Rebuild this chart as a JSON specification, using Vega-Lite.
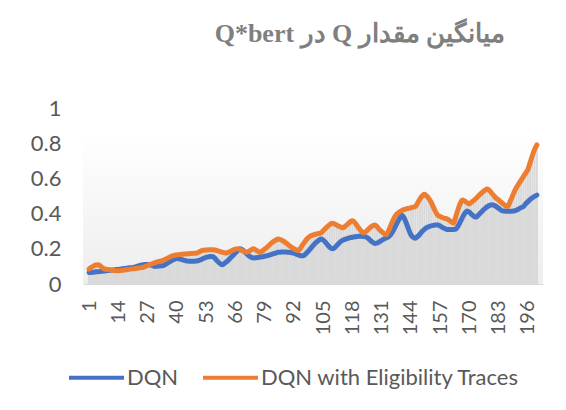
{
"$schema": "https://vega.github.io/schema/vega-lite/v6.json",
"width": 460,
"height": 176,
"autosize": {"type": "none"},
"padding": {"left": 83, "top": 108, "right": 23, "bottom": 126},
"background": "white",
"config": {
  "font": "Lato",
  "axis": {"labelOverlap": false, "labelFlush": false, "labelBound": false},
  "view": {"stroke": null, "fill": {"gradient": "linear", "x1": 0, "y1": 0, "x2": 0, "y2": 1, "stops": [{"offset": 0, "color": "#ffffff"}, {"offset": 0.15, "color": "#ffffff"}, {"offset": 1, "color": "#ededed"}]}}
},
"title": {"text": "\u202Bمیانگین مقدار Q در Q*bert\u202C", "font": "Liberation Serif", "fontSize": 26, "fontWeight": "bold", "color": "#7f7f7f", "dx": 47, "offset": 50},
"data": {"values": [
{"i":1,"DQN":0.065,"DQN with Eligibility Traces":0.085},
{"i":2,"DQN":0.066,"DQN with Eligibility Traces":0.095},
{"i":3,"DQN":0.067,"DQN with Eligibility Traces":0.103},
{"i":4,"DQN":0.069,"DQN with Eligibility Traces":0.108},
{"i":5,"DQN":0.070,"DQN with Eligibility Traces":0.110},
{"i":6,"DQN":0.071,"DQN with Eligibility Traces":0.102},
{"i":7,"DQN":0.073,"DQN with Eligibility Traces":0.092},
{"i":8,"DQN":0.074,"DQN with Eligibility Traces":0.085},
{"i":9,"DQN":0.076,"DQN with Eligibility Traces":0.083},
{"i":10,"DQN":0.077,"DQN with Eligibility Traces":0.081},
{"i":11,"DQN":0.079,"DQN with Eligibility Traces":0.079},
{"i":12,"DQN":0.080,"DQN with Eligibility Traces":0.077},
{"i":13,"DQN":0.082,"DQN with Eligibility Traces":0.076},
{"i":14,"DQN":0.083,"DQN with Eligibility Traces":0.075},
{"i":15,"DQN":0.085,"DQN with Eligibility Traces":0.077},
{"i":16,"DQN":0.087,"DQN with Eligibility Traces":0.078},
{"i":17,"DQN":0.088,"DQN with Eligibility Traces":0.080},
{"i":18,"DQN":0.090,"DQN with Eligibility Traces":0.082},
{"i":19,"DQN":0.092,"DQN with Eligibility Traces":0.084},
{"i":20,"DQN":0.093,"DQN with Eligibility Traces":0.086},
{"i":21,"DQN":0.095,"DQN with Eligibility Traces":0.087},
{"i":22,"DQN":0.099,"DQN with Eligibility Traces":0.089},
{"i":23,"DQN":0.103,"DQN with Eligibility Traces":0.091},
{"i":24,"DQN":0.107,"DQN with Eligibility Traces":0.093},
{"i":25,"DQN":0.110,"DQN with Eligibility Traces":0.095},
{"i":26,"DQN":0.111,"DQN with Eligibility Traces":0.100},
{"i":27,"DQN":0.111,"DQN with Eligibility Traces":0.105},
{"i":28,"DQN":0.110,"DQN with Eligibility Traces":0.110},
{"i":29,"DQN":0.105,"DQN with Eligibility Traces":0.115},
{"i":30,"DQN":0.100,"DQN with Eligibility Traces":0.120},
{"i":31,"DQN":0.101,"DQN with Eligibility Traces":0.124},
{"i":32,"DQN":0.102,"DQN with Eligibility Traces":0.128},
{"i":33,"DQN":0.103,"DQN with Eligibility Traces":0.131},
{"i":34,"DQN":0.105,"DQN with Eligibility Traces":0.135},
{"i":35,"DQN":0.112,"DQN with Eligibility Traces":0.141},
{"i":36,"DQN":0.120,"DQN with Eligibility Traces":0.148},
{"i":37,"DQN":0.128,"DQN with Eligibility Traces":0.154},
{"i":38,"DQN":0.135,"DQN with Eligibility Traces":0.160},
{"i":39,"DQN":0.141,"DQN with Eligibility Traces":0.163},
{"i":40,"DQN":0.145,"DQN with Eligibility Traces":0.165},
{"i":41,"DQN":0.143,"DQN with Eligibility Traces":0.167},
{"i":42,"DQN":0.140,"DQN with Eligibility Traces":0.169},
{"i":43,"DQN":0.136,"DQN with Eligibility Traces":0.170},
{"i":44,"DQN":0.132,"DQN with Eligibility Traces":0.171},
{"i":45,"DQN":0.130,"DQN with Eligibility Traces":0.172},
{"i":46,"DQN":0.129,"DQN with Eligibility Traces":0.173},
{"i":47,"DQN":0.129,"DQN with Eligibility Traces":0.174},
{"i":48,"DQN":0.130,"DQN with Eligibility Traces":0.175},
{"i":49,"DQN":0.131,"DQN with Eligibility Traces":0.176},
{"i":50,"DQN":0.135,"DQN with Eligibility Traces":0.183},
{"i":51,"DQN":0.140,"DQN with Eligibility Traces":0.190},
{"i":52,"DQN":0.146,"DQN with Eligibility Traces":0.192},
{"i":53,"DQN":0.151,"DQN with Eligibility Traces":0.193},
{"i":54,"DQN":0.154,"DQN with Eligibility Traces":0.194},
{"i":55,"DQN":0.156,"DQN with Eligibility Traces":0.195},
{"i":56,"DQN":0.155,"DQN with Eligibility Traces":0.195},
{"i":57,"DQN":0.145,"DQN with Eligibility Traces":0.193},
{"i":58,"DQN":0.130,"DQN with Eligibility Traces":0.189},
{"i":59,"DQN":0.118,"DQN with Eligibility Traces":0.185},
{"i":60,"DQN":0.110,"DQN with Eligibility Traces":0.181},
{"i":61,"DQN":0.115,"DQN with Eligibility Traces":0.178},
{"i":62,"DQN":0.125,"DQN with Eligibility Traces":0.176},
{"i":63,"DQN":0.137,"DQN with Eligibility Traces":0.181},
{"i":64,"DQN":0.150,"DQN with Eligibility Traces":0.187},
{"i":65,"DQN":0.163,"DQN with Eligibility Traces":0.193},
{"i":66,"DQN":0.177,"DQN with Eligibility Traces":0.198},
{"i":67,"DQN":0.190,"DQN with Eligibility Traces":0.200},
{"i":68,"DQN":0.200,"DQN with Eligibility Traces":0.196},
{"i":69,"DQN":0.195,"DQN with Eligibility Traces":0.190},
{"i":70,"DQN":0.185,"DQN with Eligibility Traces":0.184},
{"i":71,"DQN":0.172,"DQN with Eligibility Traces":0.180},
{"i":72,"DQN":0.160,"DQN with Eligibility Traces":0.186},
{"i":73,"DQN":0.152,"DQN with Eligibility Traces":0.194},
{"i":74,"DQN":0.148,"DQN with Eligibility Traces":0.200},
{"i":75,"DQN":0.149,"DQN with Eligibility Traces":0.194},
{"i":76,"DQN":0.151,"DQN with Eligibility Traces":0.186},
{"i":77,"DQN":0.153,"DQN with Eligibility Traces":0.180},
{"i":78,"DQN":0.155,"DQN with Eligibility Traces":0.188},
{"i":79,"DQN":0.158,"DQN with Eligibility Traces":0.198},
{"i":80,"DQN":0.160,"DQN with Eligibility Traces":0.208},
{"i":81,"DQN":0.164,"DQN with Eligibility Traces":0.220},
{"i":82,"DQN":0.168,"DQN with Eligibility Traces":0.232},
{"i":83,"DQN":0.172,"DQN with Eligibility Traces":0.242},
{"i":84,"DQN":0.176,"DQN with Eligibility Traces":0.250},
{"i":85,"DQN":0.180,"DQN with Eligibility Traces":0.255},
{"i":86,"DQN":0.181,"DQN with Eligibility Traces":0.252},
{"i":87,"DQN":0.182,"DQN with Eligibility Traces":0.246},
{"i":88,"DQN":0.182,"DQN with Eligibility Traces":0.238},
{"i":89,"DQN":0.181,"DQN with Eligibility Traces":0.228},
{"i":90,"DQN":0.180,"DQN with Eligibility Traces":0.218},
{"i":91,"DQN":0.178,"DQN with Eligibility Traces":0.208},
{"i":92,"DQN":0.175,"DQN with Eligibility Traces":0.200},
{"i":93,"DQN":0.170,"DQN with Eligibility Traces":0.194},
{"i":94,"DQN":0.165,"DQN with Eligibility Traces":0.190},
{"i":95,"DQN":0.161,"DQN with Eligibility Traces":0.205},
{"i":96,"DQN":0.160,"DQN with Eligibility Traces":0.225},
{"i":97,"DQN":0.168,"DQN with Eligibility Traces":0.243},
{"i":98,"DQN":0.180,"DQN with Eligibility Traces":0.258},
{"i":99,"DQN":0.195,"DQN with Eligibility Traces":0.270},
{"i":100,"DQN":0.210,"DQN with Eligibility Traces":0.276},
{"i":101,"DQN":0.225,"DQN with Eligibility Traces":0.280},
{"i":102,"DQN":0.238,"DQN with Eligibility Traces":0.284},
{"i":103,"DQN":0.248,"DQN with Eligibility Traces":0.287},
{"i":104,"DQN":0.255,"DQN with Eligibility Traces":0.290},
{"i":105,"DQN":0.250,"DQN with Eligibility Traces":0.302},
{"i":106,"DQN":0.238,"DQN with Eligibility Traces":0.315},
{"i":107,"DQN":0.222,"DQN with Eligibility Traces":0.328},
{"i":108,"DQN":0.208,"DQN with Eligibility Traces":0.338},
{"i":109,"DQN":0.200,"DQN with Eligibility Traces":0.345},
{"i":110,"DQN":0.205,"DQN with Eligibility Traces":0.342},
{"i":111,"DQN":0.218,"DQN with Eligibility Traces":0.335},
{"i":112,"DQN":0.232,"DQN with Eligibility Traces":0.328},
{"i":113,"DQN":0.243,"DQN with Eligibility Traces":0.323},
{"i":114,"DQN":0.250,"DQN with Eligibility Traces":0.320},
{"i":115,"DQN":0.255,"DQN with Eligibility Traces":0.330},
{"i":116,"DQN":0.259,"DQN with Eligibility Traces":0.342},
{"i":117,"DQN":0.263,"DQN with Eligibility Traces":0.353},
{"i":118,"DQN":0.266,"DQN with Eligibility Traces":0.360},
{"i":119,"DQN":0.268,"DQN with Eligibility Traces":0.350},
{"i":120,"DQN":0.270,"DQN with Eligibility Traces":0.333},
{"i":121,"DQN":0.271,"DQN with Eligibility Traces":0.315},
{"i":122,"DQN":0.271,"DQN with Eligibility Traces":0.300},
{"i":123,"DQN":0.270,"DQN with Eligibility Traces":0.290},
{"i":124,"DQN":0.268,"DQN with Eligibility Traces":0.298},
{"i":125,"DQN":0.260,"DQN with Eligibility Traces":0.310},
{"i":126,"DQN":0.248,"DQN with Eligibility Traces":0.322},
{"i":127,"DQN":0.237,"DQN with Eligibility Traces":0.331},
{"i":128,"DQN":0.230,"DQN with Eligibility Traces":0.335},
{"i":129,"DQN":0.233,"DQN with Eligibility Traces":0.325},
{"i":130,"DQN":0.240,"DQN with Eligibility Traces":0.310},
{"i":131,"DQN":0.248,"DQN with Eligibility Traces":0.298},
{"i":132,"DQN":0.255,"DQN with Eligibility Traces":0.287},
{"i":133,"DQN":0.262,"DQN with Eligibility Traces":0.280},
{"i":134,"DQN":0.267,"DQN with Eligibility Traces":0.300},
{"i":135,"DQN":0.280,"DQN with Eligibility Traces":0.330},
{"i":136,"DQN":0.300,"DQN with Eligibility Traces":0.360},
{"i":137,"DQN":0.325,"DQN with Eligibility Traces":0.385},
{"i":138,"DQN":0.350,"DQN with Eligibility Traces":0.400},
{"i":139,"DQN":0.372,"DQN with Eligibility Traces":0.410},
{"i":140,"DQN":0.390,"DQN with Eligibility Traces":0.418},
{"i":141,"DQN":0.375,"DQN with Eligibility Traces":0.423},
{"i":142,"DQN":0.345,"DQN with Eligibility Traces":0.427},
{"i":143,"DQN":0.310,"DQN with Eligibility Traces":0.430},
{"i":144,"DQN":0.280,"DQN with Eligibility Traces":0.433},
{"i":145,"DQN":0.265,"DQN with Eligibility Traces":0.437},
{"i":146,"DQN":0.260,"DQN with Eligibility Traces":0.440},
{"i":147,"DQN":0.270,"DQN with Eligibility Traces":0.460},
{"i":148,"DQN":0.283,"DQN with Eligibility Traces":0.482},
{"i":149,"DQN":0.298,"DQN with Eligibility Traces":0.500},
{"i":150,"DQN":0.310,"DQN with Eligibility Traces":0.510},
{"i":151,"DQN":0.320,"DQN with Eligibility Traces":0.500},
{"i":152,"DQN":0.326,"DQN with Eligibility Traces":0.485},
{"i":153,"DQN":0.330,"DQN with Eligibility Traces":0.465},
{"i":154,"DQN":0.333,"DQN with Eligibility Traces":0.437},
{"i":155,"DQN":0.335,"DQN with Eligibility Traces":0.410},
{"i":156,"DQN":0.335,"DQN with Eligibility Traces":0.390},
{"i":157,"DQN":0.330,"DQN with Eligibility Traces":0.384},
{"i":158,"DQN":0.322,"DQN with Eligibility Traces":0.378},
{"i":159,"DQN":0.315,"DQN with Eligibility Traces":0.373},
{"i":160,"DQN":0.310,"DQN with Eligibility Traces":0.370},
{"i":161,"DQN":0.309,"DQN with Eligibility Traces":0.362},
{"i":162,"DQN":0.309,"DQN with Eligibility Traces":0.353},
{"i":163,"DQN":0.310,"DQN with Eligibility Traces":0.345},
{"i":164,"DQN":0.312,"DQN with Eligibility Traces":0.385},
{"i":165,"DQN":0.330,"DQN with Eligibility Traces":0.425},
{"i":166,"DQN":0.355,"DQN with Eligibility Traces":0.460},
{"i":167,"DQN":0.380,"DQN with Eligibility Traces":0.477},
{"i":168,"DQN":0.402,"DQN with Eligibility Traces":0.470},
{"i":169,"DQN":0.415,"DQN with Eligibility Traces":0.462},
{"i":170,"DQN":0.408,"DQN with Eligibility Traces":0.455},
{"i":171,"DQN":0.395,"DQN with Eligibility Traces":0.465},
{"i":172,"DQN":0.385,"DQN with Eligibility Traces":0.475},
{"i":173,"DQN":0.380,"DQN with Eligibility Traces":0.487},
{"i":174,"DQN":0.392,"DQN with Eligibility Traces":0.500},
{"i":175,"DQN":0.405,"DQN with Eligibility Traces":0.512},
{"i":176,"DQN":0.418,"DQN with Eligibility Traces":0.524},
{"i":177,"DQN":0.430,"DQN with Eligibility Traces":0.534},
{"i":178,"DQN":0.440,"DQN with Eligibility Traces":0.540},
{"i":179,"DQN":0.447,"DQN with Eligibility Traces":0.530},
{"i":180,"DQN":0.450,"DQN with Eligibility Traces":0.515},
{"i":181,"DQN":0.447,"DQN with Eligibility Traces":0.500},
{"i":182,"DQN":0.440,"DQN with Eligibility Traces":0.487},
{"i":183,"DQN":0.430,"DQN with Eligibility Traces":0.477},
{"i":184,"DQN":0.420,"DQN with Eligibility Traces":0.466},
{"i":185,"DQN":0.415,"DQN with Eligibility Traces":0.455},
{"i":186,"DQN":0.414,"DQN with Eligibility Traces":0.446},
{"i":187,"DQN":0.413,"DQN with Eligibility Traces":0.440},
{"i":188,"DQN":0.413,"DQN with Eligibility Traces":0.465},
{"i":189,"DQN":0.414,"DQN with Eligibility Traces":0.495},
{"i":190,"DQN":0.415,"DQN with Eligibility Traces":0.525},
{"i":191,"DQN":0.420,"DQN with Eligibility Traces":0.550},
{"i":192,"DQN":0.427,"DQN with Eligibility Traces":0.570},
{"i":193,"DQN":0.434,"DQN with Eligibility Traces":0.590},
{"i":194,"DQN":0.440,"DQN with Eligibility Traces":0.610},
{"i":195,"DQN":0.455,"DQN with Eligibility Traces":0.630},
{"i":196,"DQN":0.468,"DQN with Eligibility Traces":0.650},
{"i":197,"DQN":0.480,"DQN with Eligibility Traces":0.690},
{"i":198,"DQN":0.490,"DQN with Eligibility Traces":0.730},
{"i":199,"DQN":0.498,"DQN with Eligibility Traces":0.765},
{"i":200,"DQN":0.505,"DQN with Eligibility Traces":0.790}
]},
"encoding": {
  "x": {"field": "i", "type": "quantitative", "scale": {"domain": [0.5, 200.5], "nice": false, "zero": false}, "axis": {"values": [1,14,27,40,53,66,79,92,105,118,131,144,157,170,183,196], "labelAngle": -90, "labelOverlap": false, "grid": false, "ticks": false, "domainColor": "#d9d9d9", "domainWidth": 1, "labelFontSize": 20, "labelColor": "#595959", "labelPadding": 16, "title": null}}
},
"layer": [
  {
    "mark": {"type": "bar", "color": "#d9d9d9", "size": 2},
    "encoding": {
      "y": {"field": "DQN with Eligibility Traces", "type": "quantitative", "scale": {"domain": [0, 1], "nice": false}, "axis": {"values": [0, 0.2, 0.4, 0.6, 0.8, 1], "format": "~g", "labelOverlap": false, "grid": false, "ticks": false, "domain": false, "labelFontSize": 22, "labelColor": "#595959", "labelPadding": 22, "title": null}}
    }
  },
  {
    "mark": {"type": "bar", "color": "#d9d9d9", "size": 2},
    "encoding": {
      "y": {"field": "DQN", "type": "quantitative", "scale": {"domain": [0, 1], "nice": false}, "axis": {"values": [0, 0.2, 0.4, 0.6, 0.8, 1], "format": "~g", "labelOverlap": false, "grid": false, "ticks": false, "domain": false, "labelFontSize": 22, "labelColor": "#595959", "labelPadding": 22, "title": null}}
    }
  },
  {
    "transform": [{"fold": ["DQN", "DQN with Eligibility Traces"], "as": ["series", "value"]}],
    "mark": {"type": "line", "strokeWidth": 5, "interpolate": "monotone", "strokeCap": "round"},
    "encoding": {
      "y": {"field": "value", "type": "quantitative", "scale": {"domain": [0, 1], "nice": false}, "axis": {"values": [0, 0.2, 0.4, 0.6, 0.8, 1], "format": "~g", "labelOverlap": false, "grid": false, "ticks": false, "domain": false, "labelFontSize": 22, "labelColor": "#595959", "labelPadding": 22, "title": null}},
      "color": {"field": "series", "type": "nominal", "scale": {"domain": ["DQN", "DQN with Eligibility Traces"], "range": ["#4472C4", "#ED7D31"]}, "legend": {"title": null, "orient": "none", "legendX": -16, "legendY": 240, "direction": "horizontal", "symbolType": "stroke", "symbolSize": 3025, "symbolStrokeWidth": 4, "labelFontSize": 22, "labelColor": "#595959", "columnPadding": 16, "labelOffset": 1, "labelLimit": 400}}
    }
  }
]
}
